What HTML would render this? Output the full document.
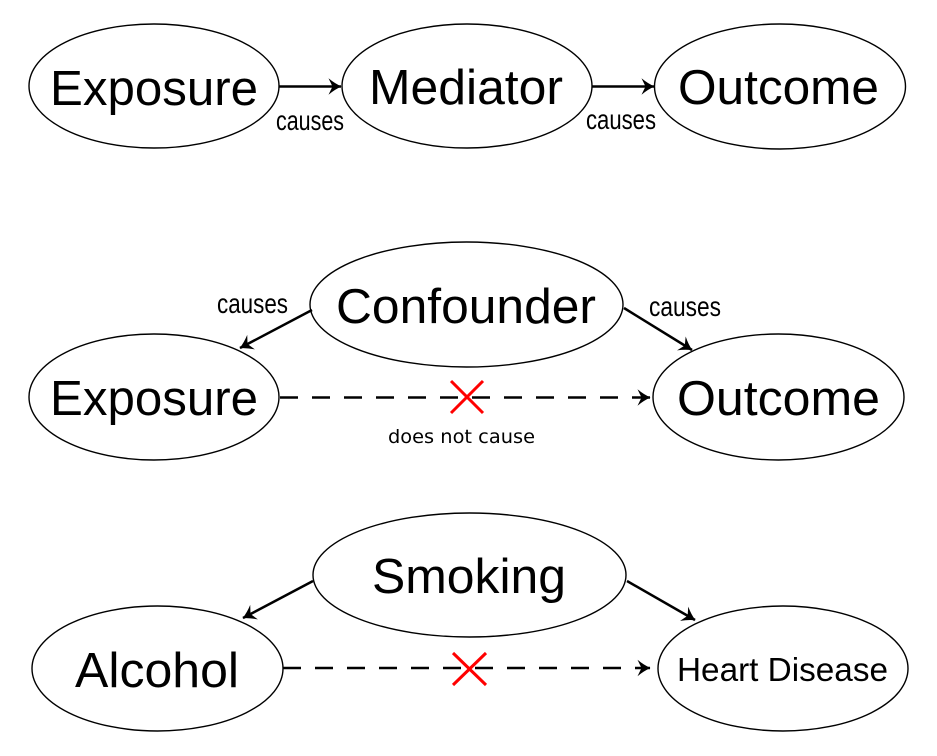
<!DOCTYPE html>
<html>
<head>
<meta charset="utf-8">
<style>
html,body{margin:0;padding:0;background:#fff;}
svg{display:block;}
text{font-family:"Liberation Sans",Arial,sans-serif;fill:#000;}
</style>
</head>
<body>
<svg width="937" height="756" viewBox="0 0 937 756" xmlns="http://www.w3.org/2000/svg">
<defs>
<marker id="ah" markerUnits="userSpaceOnUse" markerWidth="20" markerHeight="20" refX="17" refY="10" orient="auto">
<path d="M17.5,10 Q11,7.2 4.5,1.8 L8.5,10 L4.5,18.2 Q11,12.8 17.5,10 Z" fill="#000"/>
</marker>
</defs>

<g fill="#fff" stroke="#000" stroke-width="1.4">
<!-- Row 1 -->
<ellipse cx="154" cy="86" rx="125" ry="62"/>
<ellipse cx="467" cy="86" rx="125" ry="62"/>
<ellipse cx="780" cy="86.5" rx="125.5" ry="62.5"/>
<!-- Row 2 -->
<ellipse cx="466.5" cy="304.5" rx="156.5" ry="62.5"/>
<ellipse cx="154" cy="397" rx="125" ry="63"/>
<ellipse cx="778.5" cy="397" rx="125.5" ry="63"/>
<!-- Row 3 -->
<ellipse cx="469.5" cy="575" rx="156.5" ry="62"/>
<ellipse cx="157.5" cy="668.5" rx="125.5" ry="62.5"/>
<ellipse cx="783" cy="668.5" rx="125" ry="62.5"/>
</g>

<g stroke="#000" stroke-width="2.5" fill="none" marker-end="url(#ah)">
<line x1="279" y1="86.5" x2="341" y2="86.5"/>
<line x1="592" y1="86.5" x2="654" y2="86.5"/>
<line x1="312" y1="310" x2="240" y2="348"/>
<line x1="624" y1="308" x2="692" y2="350"/>
<line x1="313" y1="581" x2="243" y2="618"/>
<line x1="627" y1="581" x2="695" y2="620"/>
</g>
<g stroke="#000" stroke-width="2.5" fill="none" stroke-dasharray="18 14" marker-end="url(#ah)">
<line x1="280" y1="397.5" x2="650" y2="397.5"/>
<line x1="283" y1="668" x2="650" y2="668"/>
</g>

<g stroke="#ff0000" stroke-width="3" fill="none">
<line x1="451" y1="381" x2="483" y2="413"/>
<line x1="483" y1="381" x2="451" y2="413"/>
<line x1="453" y1="653" x2="486" y2="685"/>
<line x1="486" y1="653" x2="453" y2="685"/>
</g>

<!-- Big labels -->
<g font-size="49">
<text x="50" y="105" textLength="208" lengthAdjust="spacingAndGlyphs">Exposure</text>
<text x="369" y="104" textLength="194" lengthAdjust="spacingAndGlyphs">Mediator</text>
<text x="678" y="104" textLength="201" lengthAdjust="spacingAndGlyphs">Outcome</text>
<text x="336" y="323" textLength="260" lengthAdjust="spacingAndGlyphs">Confounder</text>
<text x="50" y="415" textLength="208" lengthAdjust="spacingAndGlyphs">Exposure</text>
<text x="677" y="415" textLength="203" lengthAdjust="spacingAndGlyphs">Outcome</text>
<text x="372" y="593" textLength="194" lengthAdjust="spacingAndGlyphs">Smoking</text>
<text x="75" y="687" textLength="164" lengthAdjust="spacingAndGlyphs">Alcohol</text>
</g>
<text x="677" y="681" font-size="33" textLength="211" lengthAdjust="spacingAndGlyphs">Heart Disease</text>

<!-- small labels -->
<g font-size="28">
<text x="276" y="130" textLength="68" lengthAdjust="spacingAndGlyphs">causes</text>
<text x="586" y="129" textLength="70" lengthAdjust="spacingAndGlyphs">causes</text>
<text x="217" y="313" textLength="71" lengthAdjust="spacingAndGlyphs">causes</text>
<text x="649" y="316" textLength="72" lengthAdjust="spacingAndGlyphs">causes</text>
</g>
<text x="388" y="443" font-size="19" style="font-family:'DejaVu Sans',sans-serif" textLength="147" lengthAdjust="spacingAndGlyphs">does not cause</text>
</svg>
</body>
</html>
